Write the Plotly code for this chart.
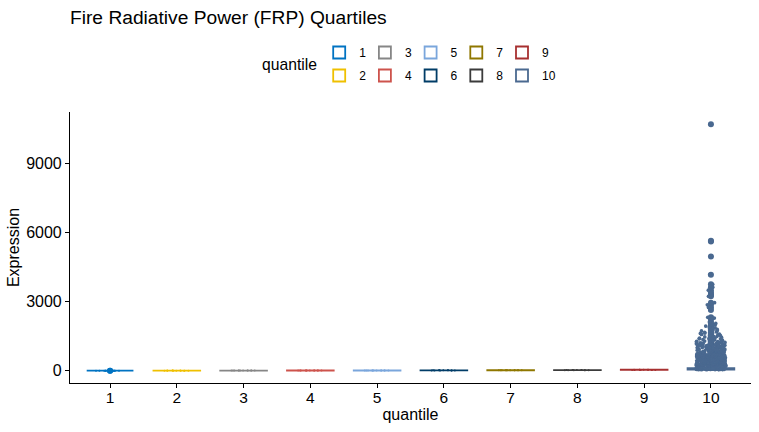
import plotly.graph_objects as go

# ---------------- data ----------------
quantiles = ["1", "2", "3", "4", "5", "6", "7", "8", "9", "10"]
jco_colors = ["#0073C2", "#EFC000", "#868686", "#CD534C", "#7AA6DC",
              "#003C67", "#8F7700", "#3B3B3B", "#A73030", "#4A6990"]
y_ticks = [0, 3000, 6000, 9000]

q1 = [1.62, 0.14, 1.48, 1.91, 1.55, 1.73, 0.22, 1.84, 1.67, 1.51, 1.96, 1.78, 1.59, 1.88]
q2 = [2.35, 3.71, 2.08, 2.92, 3.24, 2.61, 3.88, 2.47, 3.05, 2.79, 3.52, 2.19]
q3 = [4.42, 5.87, 4.05, 5.13, 4.71, 5.49, 4.26, 5.96, 4.88, 5.31, 4.57, 5.72]
q4 = [6.35, 8.64, 7.12, 6.08, 7.83, 8.21, 6.77, 8.93, 7.46, 6.52, 8.05, 7.29]
q5 = [9.41, 11.62, 10.18, 9.07, 10.86, 11.33, 9.74, 11.91, 10.45, 9.25, 11.08, 10.67]
q6 = [12.6, 15.4, 13.3, 12.2, 14.7, 15.9, 13.9, 12.9, 14.2, 15.1, 13.6, 14.9]
q7 = [16.8, 20.3, 17.6, 16.2, 19.1, 20.8, 18.4, 17.1, 19.7, 18.9, 16.5, 20.1]
q8 = [22.4, 27.9, 24.1, 21.6, 26.3, 28.6, 23.5, 25.2, 21.2, 27.1, 24.8, 25.9]
q9 = [30.8, 41.5, 34.2, 29.6, 38.7, 44.1, 32.5, 36.9, 31.4, 40.2, 35.6, 42.8]

# quantile 10: box statistics (q1, median, q3) and whisker ends
q10_quartiles = [50, 78, 112]
q10_whiskers = [47.9, 193.5]

# quantile 10: sampled raw values as seen in the jitter cloud
q10_low = [
    48.6, 73.2, 91.5, 56.8, 104.7, 62.3, 85.1, 117.4, 51.2, 69.9, 95.3, 58.4, 77.6, 110.2, 64.5, 88.7, 53.9, 99.1, 71.4, 122.6,
    60.8, 83.5, 49.7, 107.9, 67.2, 93.8, 55.3, 76.1, 114.5, 63.9, 89.4, 52.6, 101.3, 72.8, 58.1, 96.2, 80.4, 119.8, 66.7, 50.9,
    86.3, 61.5, 108.6, 74.9, 54.2, 97.7, 68.3, 121.1, 57.5, 90.6, 79.2, 103.4, 47.9, 65.1, 84.8, 112.3, 59.6, 94.1, 70.7, 53.3,
]
q10_mid = [127.3, 139.8, 148.6, 156.1, 163.9, 171.4, 182.7, 193.5]
q10_cloud = [
    238, 271, 205, 293, 219, 256, 284, 212, 247, 263, 229, 299, 208, 276, 241, 252, 217, 288, 233, 266,
    202, 259, 281, 224, 244, 297, 214, 269, 236, 279, 249, 226, 262, 210,
    347, 312, 385, 329, 368, 304, 356, 391, 321, 374, 338, 307, 362, 396, 316, 351, 383, 334, 371, 309,
    342, 378, 325, 359, 399, 318, 365, 331, 388, 353, 302, 376,
    436, 471, 408, 489, 453, 422, 497, 441, 466, 414, 482, 429, 458, 403, 476, 447, 492, 418, 463, 434,
    486, 411, 455, 479, 426, 444, 469, 405, 494, 438,
    548, 517, 583, 531, 564, 506, 592, 541, 576, 523, 557, 599, 512, 569, 536, 587, 503, 552, 528, 579,
    544, 511, 566, 595, 534, 559, 521, 586,
    627, 661, 608, 684, 643, 619, 697, 652, 635, 673, 604, 689, 648, 622, 667, 611, 679, 638, 656, 693,
    615, 671, 631, 686, 646, 663,
    741, 718, 776, 703, 759, 734, 791, 712, 765, 748, 727, 784, 706, 753, 738, 797, 721, 769, 745, 709,
    781, 730, 762, 795,
    826, 861, 809, 884, 843, 817, 896, 852, 834, 871, 803, 889, 847, 822, 866, 812, 878, 839, 857, 893,
    829, 868,
    937, 972, 915, 988, 951, 926, 994, 961, 943, 908, 979, 932, 957, 919, 984, 946, 903, 967, 924, 998,
    1043, 1081, 1017, 1096, 1058, 1029, 1072, 1006, 1088, 1051, 1035, 1064, 1012, 1093, 1047, 1076, 1024,
    1138, 1172, 1109, 1193, 1151, 1124, 1186, 1146, 1117, 1165, 1198, 1132, 1179, 1103,
    1236, 1271, 1214, 1292, 1253, 1227, 1284, 1206, 1262, 1243, 1277,
    1338, 1371, 1315, 1392, 1354, 1327, 1383, 1306,
    1447, 1412, 1486, 1431, 1468, 1405, 1493,
    1536, 1574, 1512, 1558, 1591,
    1648, 1617, 1682, 1633, 1669,
    1726, 1768, 1745, 1791,
    1842, 1897, 1938, 1863, 1986,
    2052, 2246, 2118, 2318, 2283,
]
q10_high = [2640, 2745, 2862, 2955, 3228, 3305, 3392, 3496, 3625, 3752, 4168, 4962, 5605, 5638, 10695]
q10 = q10_low + q10_mid + q10_cloud + q10_high

series = [q1, q2, q3, q4, q5, q6, q7, q8, q9, q10]

# ---------------- figure ----------------
BOX_W = 0.7
JITTER = 0.64
fig = go.Figure()

def jitter_trace(name, col, vals, size):
    return go.Box(
        x=[name] * len(vals), y=vals, name=name,
        width=BOX_W, fillcolor="rgba(0,0,0,0)",
        line=dict(color="rgba(0,0,0,0)", width=0),
        marker=dict(color=col, size=size, line=dict(width=0)),
        boxpoints="all", jitter=JITTER, pointpos=0, whiskerwidth=0,
        showlegend=False, hoverinfo="skip",
    )

# jitter of the flat groups (kept inside their thin boxes)
for name, col, vals in zip(quantiles[:9], jco_colors[:9], series[:9]):
    fig.add_trace(jitter_trace(name, col, vals, 2.0))

# boxes (white fill, coloured outline, outliers as larger dots)
for i, (name, col, vals) in enumerate(zip(quantiles, jco_colors, series)):
    common = dict(
        name=name, width=BOX_W, fillcolor="white",
        line=dict(color=col, width=1.8),
        marker=dict(color=col, size=6, line=dict(width=0)),
        whiskerwidth=0, hoverinfo="skip",
        legend="legend" if i % 2 == 0 else "legend2",
        legendwidth=(14 if i >= 8 else 0.7),
    )
    if name == "10":
        fig.add_trace(go.Box(
            x=[name], q1=[q10_quartiles[0]], median=[q10_quartiles[1]], q3=[q10_quartiles[2]],
            lowerfence=[q10_whiskers[0]], upperfence=[q10_whiskers[1]],
            boxpoints=False, **common))
    else:
        fig.add_trace(go.Box(
            x=[name] * len(vals), y=vals,
            boxpoints="outliers", jitter=0, pointpos=0, **common))

# quantile 10: outliers (beyond the upper whisker) at the box centre
q10_out = [v for v in q10 if v > q10_whiskers[1]]
fig.add_trace(go.Box(
    x=["10"] * len(q10_out), y=q10_out, name="10",
    width=BOX_W, fillcolor="rgba(0,0,0,0)",
    line=dict(color="rgba(0,0,0,0)", width=0),
    marker=dict(color=jco_colors[9], size=6, line=dict(width=0)),
    boxpoints="all", jitter=0, pointpos=0, whiskerwidth=0,
    showlegend=False, hoverinfo="skip",
))
# quantile 10: jittered raw points on top
fig.add_trace(jitter_trace("10", jco_colors[9], q10, 3.7))

ML, MR, MT, MB = 70, 8, 112, 49
W, H = 759, 432
pw, ph = W - ML - MR, H - MT - MB

def px_x(x):
    return (x - ML) / pw

def px_y(y):
    return (H - MB - y) / ph

legend_common = dict(
    orientation="h", xanchor="left", yanchor="middle",
    entrywidth=0.7, itemwidth=30, bgcolor="rgba(0,0,0,0)",
    font=dict(size=12, color="black"), tracegroupgap=0,
)

fig.update_layout(
    width=W, height=H,
    margin=dict(l=ML, r=MR, t=MT, b=MB, autoexpand=False),
    paper_bgcolor="white", plot_bgcolor="white",
    font=dict(family="Liberation Sans, Arial, sans-serif", color="black", size=16),
    title=dict(text="Fire Radiative Power (FRP) Quartiles", x=0, xref="paper", xanchor="left",
               y=1 - 17 / H, yref="container", yanchor="middle",
               font=dict(size=19.2, color="black")),
    boxmode="overlay",
    xaxis=dict(type="category", categoryorder="array", categoryarray=quantiles,
               range=[-0.6, 9.6], showline=True, linecolor="black", linewidth=1.1,
               ticks="outside", ticklen=4, tickwidth=1.1, tickcolor="black",
               showgrid=False, zeroline=False, automargin=False,
               ticklabelstandoff=-4,
               tickfont=dict(size=15.5, color="black"),
               title=dict(text="quantile", standoff=4, font=dict(size=16, color="black"))),
    yaxis=dict(range=[-534, 11231], tickvals=y_ticks, ticktext=[str(v) for v in y_ticks],
               showline=True, linecolor="black", linewidth=1.1,
               ticks="outside", ticklen=4, tickwidth=1.1, tickcolor="black",
               showgrid=False, zeroline=False, automargin=False,
               tickfont=dict(size=16, color="black"),
               title=dict(text="Expression", standoff=2, font=dict(size=16, color="black"))),
    legend=dict(x=px_x(319.2), y=px_y(52.5), **legend_common),
    legend2=dict(x=px_x(319.2), y=px_y(75.5), **legend_common),
    annotations=[dict(text="quantile", xref="paper", yref="paper",
                      x=px_x(318.5), y=px_y(65), xanchor="right", yanchor="middle",
                      showarrow=False, font=dict(size=15.7, color="black"))],
)

fig.write_html("out.html", config={"displayModeBar": False},
               post_script="document.body.style.margin='0';")
